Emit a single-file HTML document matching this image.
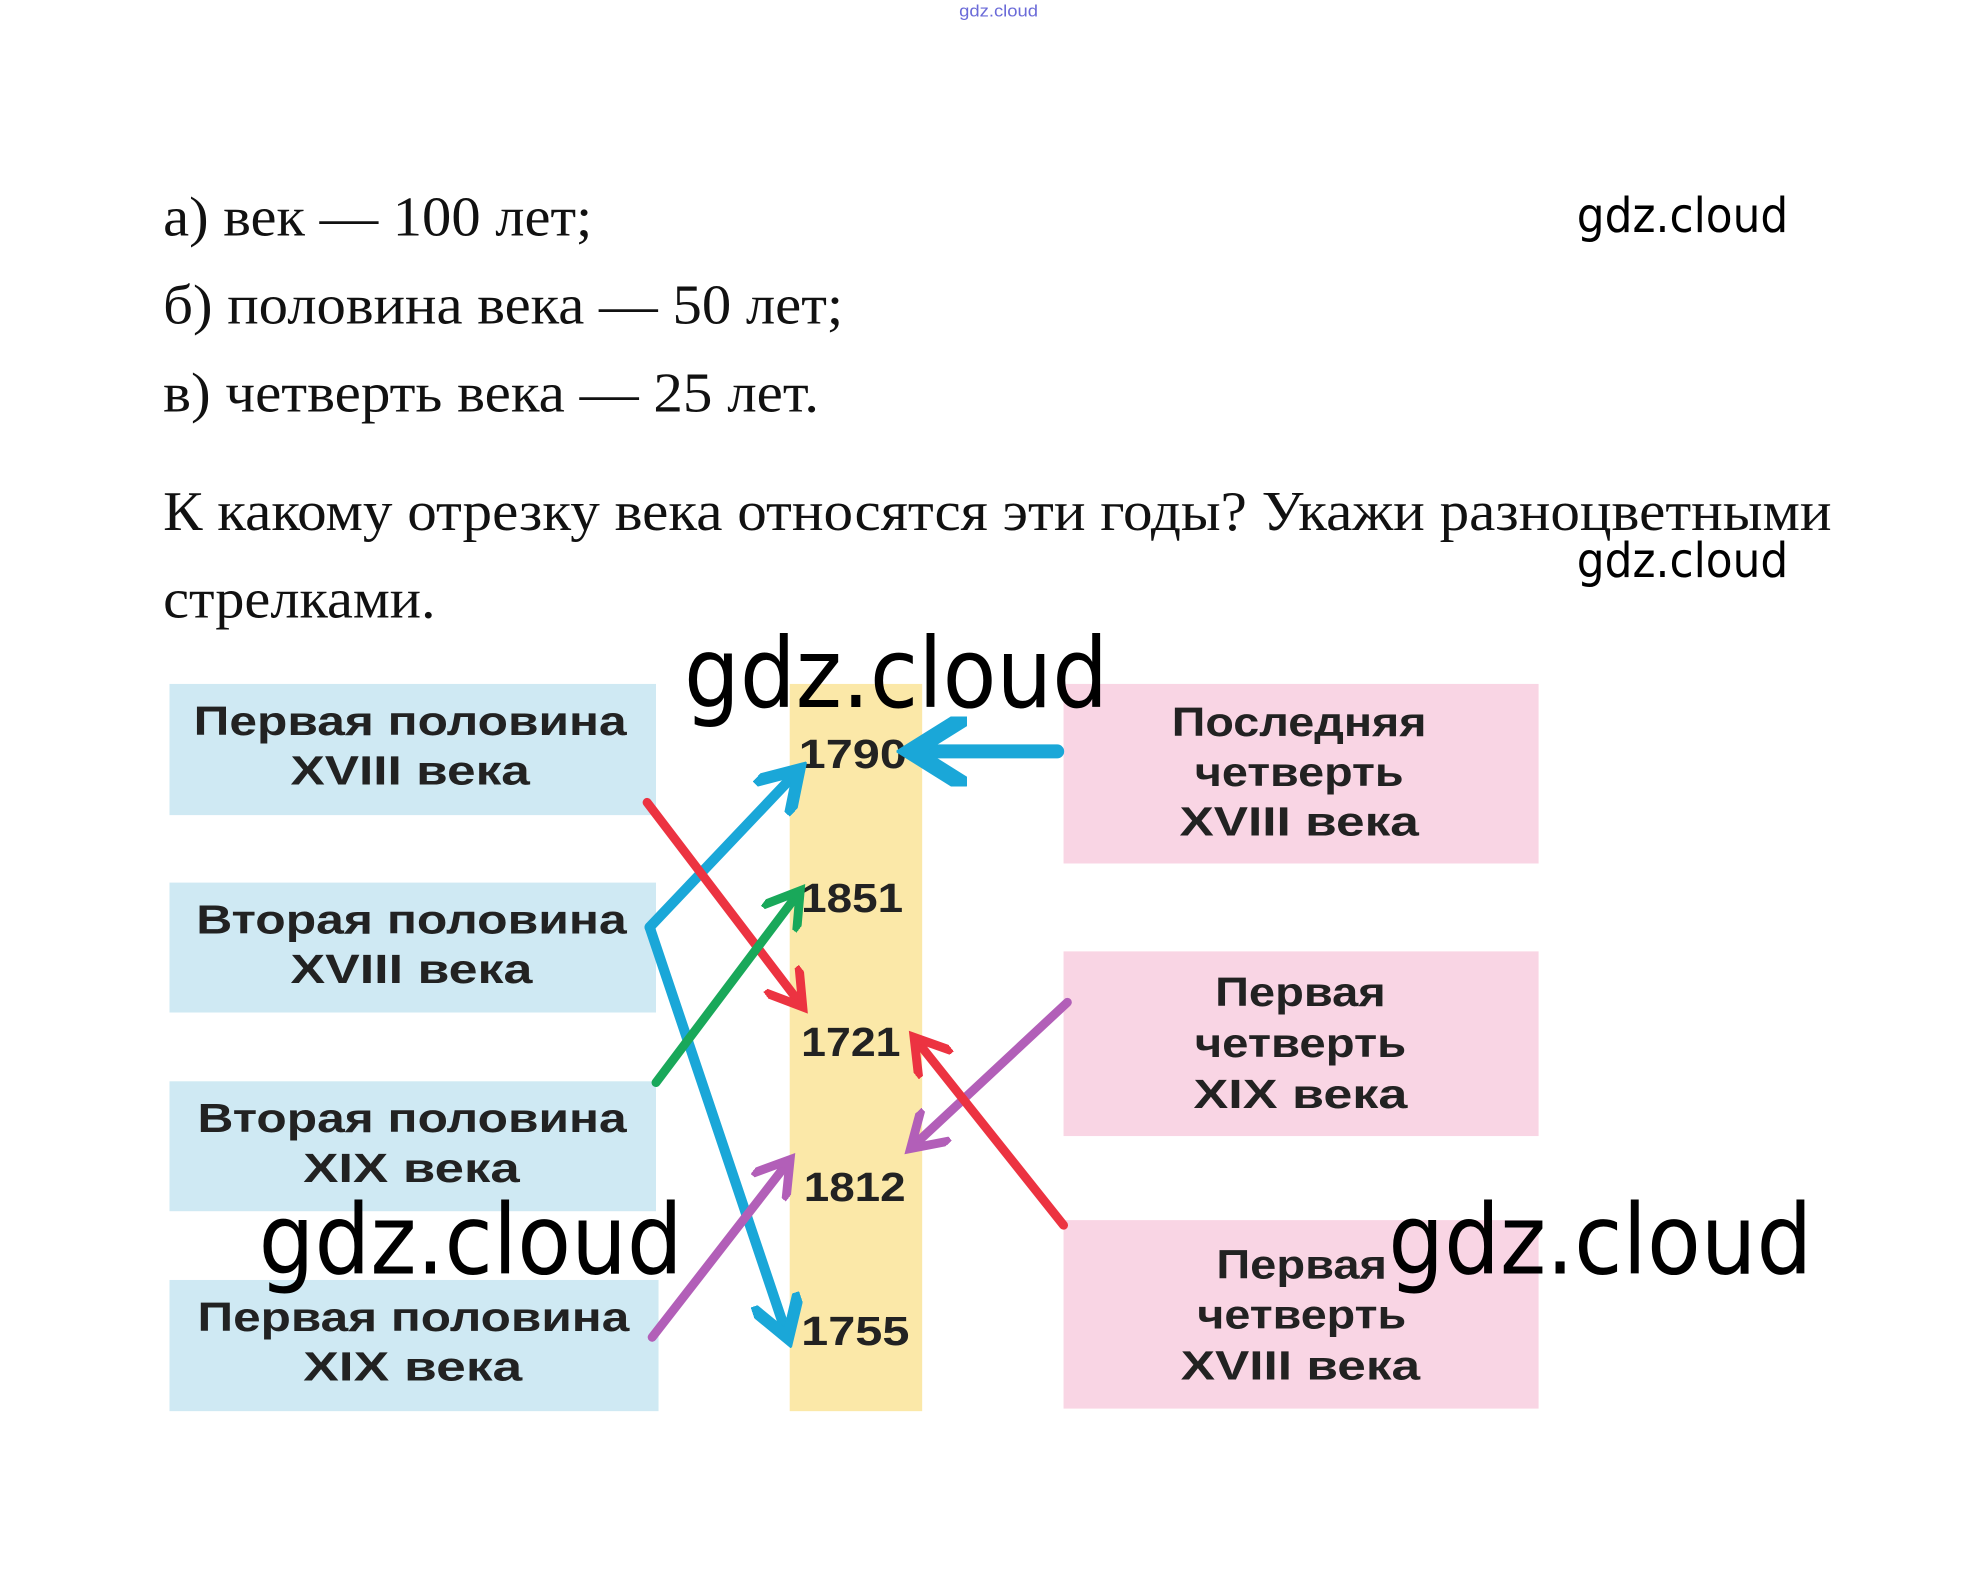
<!DOCTYPE html>
<html><head><meta charset="utf-8"><style>
html,body{margin:0;padding:0;background:#fff;}
svg{display:block}
.s{font-family:"Liberation Serif",serif;font-size:44px;fill:#111}
.b{font-family:"Liberation Sans",sans-serif;font-weight:bold;font-size:32px;fill:#222}
.y{font-family:"Liberation Sans",sans-serif;font-weight:bold;font-size:32px;fill:#222}
.w{font-family:"DejaVu Sans","Liberation Sans",sans-serif;fill:#000}
</style></head><body>
<svg width="1987" height="1578" viewBox="0 0 1560 1239" xmlns="http://www.w3.org/2000/svg">
<defs>
<marker id="mc" markerWidth="5" markerHeight="5" refX="3" refY="2.5" orient="auto"><path d="M0,0 L4,2.5 L0,5" fill="none" stroke="#1aa7d8" stroke-width="1.2"/></marker>
<marker id="mr" markerWidth="5" markerHeight="5" refX="3" refY="2.5" orient="auto"><path d="M0,0 L4,2.5 L0,5" fill="none" stroke="#ec3341" stroke-width="1"/></marker>
<marker id="mg" markerWidth="5" markerHeight="5" refX="3" refY="2.5" orient="auto"><path d="M0,0 L4,2.5 L0,5" fill="none" stroke="#19a85a" stroke-width="1"/></marker>
<marker id="mp" markerWidth="5" markerHeight="5" refX="3" refY="2.5" orient="auto"><path d="M0,0 L4,2.5 L0,5" fill="none" stroke="#b25fb8" stroke-width="1"/></marker>
</defs>
<text x="753" y="13" font-family="Liberation Sans,sans-serif" font-size="13" fill="#6a6ad8" textLength="62" lengthAdjust="spacingAndGlyphs">gdz.cloud</text>
<text class="s" x="128" y="185" textLength="337" lengthAdjust="spacingAndGlyphs">а) век — 100 лет;</text>
<text class="s" x="128" y="254" textLength="534" lengthAdjust="spacingAndGlyphs">б) половина века — 50 лет;</text>
<text class="s" x="128" y="323" textLength="515" lengthAdjust="spacingAndGlyphs">в) четверть века — 25 лет.</text>
<text class="s" x="128" y="416" textLength="1310" lengthAdjust="spacingAndGlyphs">К какому отрезку века относятся эти годы? Укажи разноцветными</text>
<text class="s" x="128" y="485" textLength="214" lengthAdjust="spacingAndGlyphs">стрелками.</text>
<text class="w" x="1238" y="182" font-size="38" textLength="166" lengthAdjust="spacingAndGlyphs">gdz.cloud</text>
<text class="w" x="1238" y="453" font-size="38" textLength="166" lengthAdjust="spacingAndGlyphs">gdz.cloud</text>

<rect x="133" y="537" width="382" height="103" fill="#cfe9f3"/>
<rect x="133" y="693" width="382" height="102" fill="#cfe9f3"/>
<rect x="133" y="849" width="382" height="102" fill="#cfe9f3"/>
<rect x="133" y="1005" width="384" height="103" fill="#cfe9f3"/>
<rect x="835" y="537" width="373" height="141" fill="#f9d5e4"/>
<rect x="835" y="747" width="373" height="145" fill="#f9d5e4"/>
<rect x="835" y="958" width="373" height="148" fill="#f9d5e4"/>
<rect x="620" y="537" width="104" height="571" fill="#fbe8a8"/>

<g class="b" lengthAdjust="spacingAndGlyphs">
<text class="b" x="152" y="577" textLength="340" lengthAdjust="spacingAndGlyphs">Первая  половина</text><text class="b" x="228" y="616" textLength="188" lengthAdjust="spacingAndGlyphs">XVIII  века</text>
<text class="b" x="154" y="733" textLength="338" lengthAdjust="spacingAndGlyphs">Вторая  половина</text><text class="b" x="228" y="772" textLength="190" lengthAdjust="spacingAndGlyphs">XVIII  века</text>
<text class="b" x="155" y="889" textLength="337" lengthAdjust="spacingAndGlyphs">Вторая  половина</text><text class="b" x="238" y="928" textLength="170" lengthAdjust="spacingAndGlyphs">XIX  века</text>
<text class="b" x="155" y="1045" textLength="339" lengthAdjust="spacingAndGlyphs">Первая  половина</text><text class="b" x="238" y="1084" textLength="172" lengthAdjust="spacingAndGlyphs">XIX  века</text>
<text class="b" x="920" y="578" textLength="200" lengthAdjust="spacingAndGlyphs">Последняя</text><text class="b" x="938" y="617" textLength="164" lengthAdjust="spacingAndGlyphs">четверть</text><text class="b" x="926" y="656" textLength="188" lengthAdjust="spacingAndGlyphs">XVIII  века</text>
<text class="b" x="954" y="790" textLength="134" lengthAdjust="spacingAndGlyphs">Первая</text><text class="b" x="938" y="830" textLength="166" lengthAdjust="spacingAndGlyphs">четверть</text><text class="b" x="937" y="870" textLength="168" lengthAdjust="spacingAndGlyphs">XIX  века</text>
<text class="b" x="955" y="1004" textLength="134" lengthAdjust="spacingAndGlyphs">Первая</text><text class="b" x="940" y="1043" textLength="164" lengthAdjust="spacingAndGlyphs">четверть</text><text class="b" x="927" y="1083" textLength="188" lengthAdjust="spacingAndGlyphs">XVIII  века</text>
</g>

<text class="y" x="627" y="603" textLength="85" lengthAdjust="spacingAndGlyphs">1790</text>
<text class="y" x="629" y="716" textLength="80" lengthAdjust="spacingAndGlyphs">1851</text>
<text class="y" x="629" y="829" textLength="78" lengthAdjust="spacingAndGlyphs">1721</text>
<text class="y" x="631" y="943" textLength="80" lengthAdjust="spacingAndGlyphs">1812</text>
<text class="y" x="629" y="1056" textLength="85" lengthAdjust="spacingAndGlyphs">1755</text>

<g fill="none" stroke-width="7" stroke-linecap="round" stroke-linejoin="round">
<line x1="830" y1="590" x2="726" y2="590" stroke="#1aa7d8" stroke-width="11" marker-end="url(#mc)"/>
<polyline points="510,728 622,610" stroke="#1aa7d8" stroke-width="8" marker-end="url(#mc)"/>
<line x1="510" y1="728" x2="616" y2="1043" stroke="#1aa7d8" stroke-width="8" marker-end="url(#mc)"/>
<line x1="508" y1="630" x2="626" y2="785" stroke="#ec3341" marker-end="url(#mr)"/>
<line x1="515" y1="850" x2="624" y2="705" stroke="#19a85a" marker-end="url(#mg)"/>
<line x1="512" y1="1050" x2="616" y2="916" stroke="#b25fb8" marker-end="url(#mp)"/>
<line x1="838" y1="787" x2="720" y2="897" stroke="#b25fb8" marker-end="url(#mp)"/>
<line x1="835" y1="962" x2="722" y2="820" stroke="#ec3341" marker-end="url(#mr)"/>
</g>

<text class="w" x="537" y="555" font-size="76" textLength="333" lengthAdjust="spacingAndGlyphs">gdz.cloud</text>
<text class="w" x="203" y="1000" font-size="76" textLength="333" lengthAdjust="spacingAndGlyphs">gdz.cloud</text>
<text class="w" x="1090" y="1000" font-size="76" textLength="333" lengthAdjust="spacingAndGlyphs">gdz.cloud</text>
</svg>
</body></html>
